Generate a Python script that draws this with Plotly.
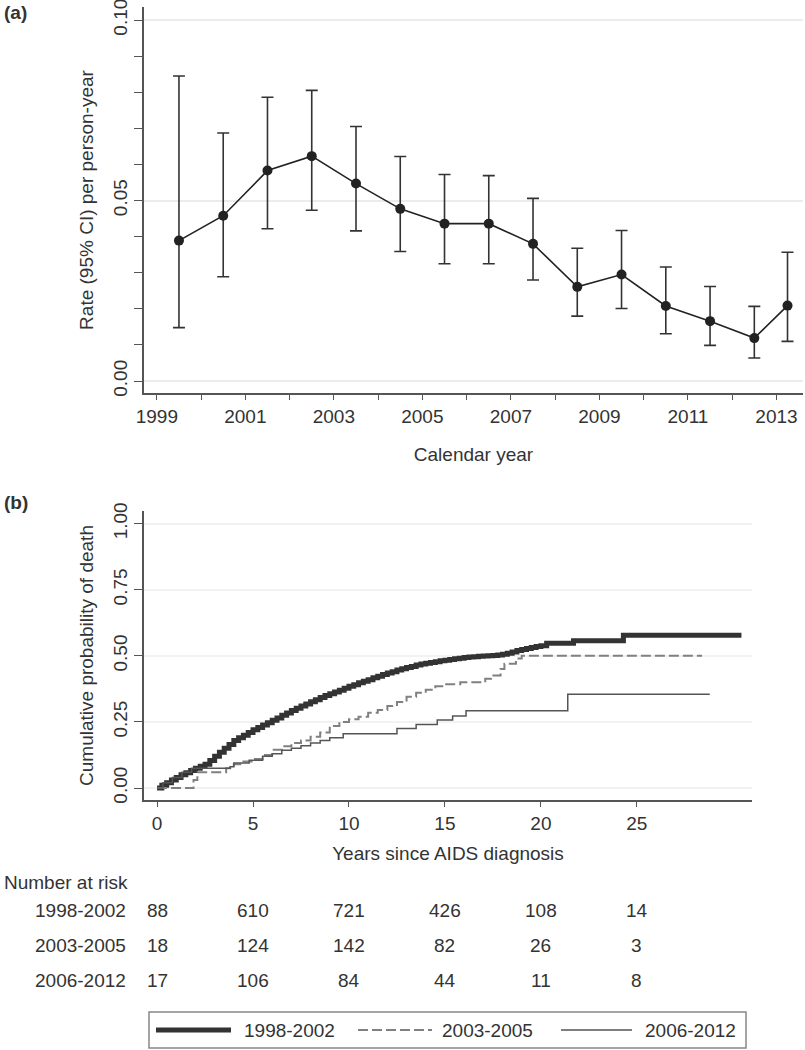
import plotly.graph_objects as go

# ---- panel (a): mortality rate by calendar year ----
years = [1999.5, 2000.5, 2001.5, 2002.5, 2003.5, 2004.5, 2005.5, 2006.5,
         2007.5, 2008.5, 2009.5, 2010.5, 2011.5, 2012.5, 2013.25]
rate = [0.0389, 0.0458, 0.0583, 0.0623, 0.0547, 0.0477, 0.0436, 0.0436,
        0.0380, 0.0261, 0.0295, 0.0208, 0.0166, 0.0119, 0.0209]
rate_hi = [0.0845, 0.0687, 0.0786, 0.0805, 0.0705, 0.0622, 0.0572, 0.0569,
           0.0506, 0.0368, 0.0417, 0.0316, 0.0262, 0.0207, 0.0357]
rate_lo = [0.0148, 0.0289, 0.0422, 0.0473, 0.0416, 0.0359, 0.0325, 0.0325,
           0.0280, 0.0180, 0.0201, 0.0131, 0.0099, 0.0064, 0.0110]
year_ticks = [1999, 2001, 2003, 2005, 2007, 2009, 2011, 2013]

# ---- panel (b): cumulative probability of death (Kaplan-Meier steps) ----
groups = ["1998-2002", "2003-2005", "2006-2012"]

t_9802 = [0, 0.25, 0.5, 0.75, 1.0, 1.25, 1.5, 1.75, 2.0, 2.25, 2.5, 2.75, 3.0, 3.25,
          3.5, 3.75, 4.0, 4.25, 4.5, 4.75, 5.0, 5.25, 5.5, 5.75, 6.0, 6.25, 6.5, 6.75,
          7.0, 7.25, 7.5, 7.75, 8.0, 8.25, 8.5, 8.75, 9.0, 9.25, 9.5, 9.75, 10.0,
          10.25, 10.5, 10.75, 11.0, 11.25, 11.5, 11.75, 12.0, 12.25, 12.5, 12.75,
          13.0, 13.25, 13.5, 13.75, 14.0, 14.25, 14.5, 14.75, 15.0, 15.25, 15.5,
          15.75, 16.0, 16.25, 16.5, 16.75, 17.0, 17.25, 17.5, 17.75, 18.0, 18.25,
          18.5, 18.75, 19.0, 19.25, 19.5, 19.75, 20.0, 20.3, 21.7, 24.3, 30.45]
p_9802 = [0, 0.01, 0.02, 0.03, 0.04, 0.05, 0.058, 0.066, 0.075, 0.082, 0.09, 0.104,
          0.12, 0.135, 0.15, 0.165, 0.18, 0.19, 0.20, 0.21, 0.22, 0.229, 0.238,
          0.247, 0.256, 0.265, 0.275, 0.284, 0.293, 0.302, 0.31, 0.318, 0.326,
          0.334, 0.342, 0.35, 0.357, 0.363, 0.370, 0.377, 0.385, 0.391, 0.398,
          0.404, 0.41, 0.417, 0.423, 0.429, 0.435, 0.44, 0.446, 0.451, 0.456, 0.46,
          0.465, 0.469, 0.472, 0.475, 0.478, 0.481, 0.483, 0.486, 0.489, 0.491,
          0.494, 0.496, 0.497, 0.498, 0.499, 0.500, 0.501, 0.503, 0.506, 0.51,
          0.515, 0.52, 0.524, 0.528, 0.532, 0.535, 0.538, 0.548, 0.557, 0.578, 0.578]

t_0305 = [0, 1.9, 2.1, 3.6, 4.0, 4.5, 5.0, 5.5, 6.0, 6.5, 7.0, 7.5, 8.0, 8.5, 9.0,
          9.5, 10.0, 10.5, 11.0, 11.5, 12.0, 12.5, 13.0, 13.5, 14.0, 14.5, 15.0,
          15.8, 17.1, 17.4, 17.9, 18.1, 18.7, 19.0, 28.4]
p_0305 = [0, 0.03, 0.06, 0.075, 0.09, 0.10, 0.11, 0.125, 0.145, 0.158, 0.17,
          0.18, 0.194, 0.21, 0.235, 0.25, 0.26, 0.27, 0.285, 0.295, 0.31, 0.325,
          0.345, 0.36, 0.372, 0.385, 0.393, 0.40, 0.413, 0.426, 0.45, 0.47, 0.49,
          0.50, 0.50]

t_0612 = [0, 0.3, 0.8, 1.3, 1.8, 3.8, 4.0, 4.8, 5.5, 6.0, 6.5, 7.0, 7.5, 8.0, 8.5,
          9.0, 9.7, 12.5, 13.5, 14.6, 15.4, 16.1, 21.4, 28.8]
p_0612 = [0, 0.02, 0.04, 0.06, 0.075, 0.08, 0.095, 0.105, 0.12, 0.13, 0.143, 0.15,
          0.16, 0.17, 0.18, 0.19, 0.205, 0.225, 0.24, 0.257, 0.272, 0.292, 0.355,
          0.355]

risk_times = [0, 5, 10, 15, 20, 25]
risk_9802 = [88, 610, 721, 426, 108, 14]
risk_0305 = [18, 124, 142, 82, 26, 3]
risk_0612 = [17, 106, 84, 44, 11, 8]

FONT = "Liberation Sans, Arial, sans-serif"
TXT = "#333333"
AX = "#555555"
GRID = "#ececec"
W, H = 805, 1050

fig = go.Figure()

err_plus = [h - r for h, r in zip(rate_hi, rate)]
err_minus = [r - l for r, l in zip(rate, rate_lo)]
fig.add_trace(go.Scatter(
    x=years, y=rate, mode="lines+markers",
    line=dict(color="#222222", width=1.6),
    marker=dict(color="#222222", size=10),
    error_y=dict(type="data", symmetric=False, array=err_plus, arrayminus=err_minus,
                 color="#333333", thickness=1.6, width=6),
    xaxis="x", yaxis="y", showlegend=False))

styles = [dict(color="#333333", width=5),
          dict(color="#808080", width=2, dash="10px,4px"),
          dict(color="#555555", width=1.5)]
for name, t, p, st in zip(groups, [t_9802, t_0305, t_0612], [p_9802, p_0305, p_0612], styles):
    fig.add_trace(go.Scatter(x=t, y=p, mode="lines", line_shape="hv", line=st,
                             name=name, xaxis="x2", yaxis="y2", showlegend=False))

axis_common = dict(showline=True, linecolor=AX, linewidth=1.5, ticks="outside",
                   tickcolor=AX, tickwidth=1.2, automargin=False, zeroline=False,
                   ticklabeloverflow="allow",
                   tickfont=dict(size=19, color=TXT, family=FONT),
                   title_font=dict(size=19, color=TXT, family=FONT))

fig.update_layout(
    width=W, height=H, margin=dict(l=0, r=0, t=0, b=0),
    paper_bgcolor="white", plot_bgcolor="white",
    font=dict(family=FONT, color=TXT, size=19),
    xaxis=dict(domain=[144 / W, 803 / W], anchor="y", range=[1998.71, 2013.6],
               tickvals=year_ticks, ticklen=5, showgrid=False,
               minor=dict(dtick=1, tick0=1999, ticks="outside", ticklen=5,
                          tickcolor=AX, tickwidth=1.2),
               title=dict(text="Calendar year", standoff=22), **axis_common),
    yaxis=dict(domain=[(H - 393) / H, (H - 7) / H], anchor="x", range=[-0.0033, 0.1036],
               tickvals=[0, 0.05, 0.1], ticktext=["0.00", "0.05", "0.10"],
               tickangle=-90, ticklen=8, showgrid=True, gridcolor=GRID, gridwidth=1.5,
               minor=dict(dtick=0.01, tick0=0, ticks="outside", ticklen=8,
                          tickcolor=AX, tickwidth=1.2),
               title=dict(text="Rate (95% CI) per person-year", standoff=11), **axis_common),
    xaxis2=dict(domain=[144 / W, 752 / W], anchor="y2", range=[-0.68, 31.0],
                tickvals=[0, 5, 10, 15, 20, 25], ticklen=5, showgrid=False,
                title=dict(text="Years since AIDS diagnosis", standoff=14), **axis_common),
    yaxis2=dict(domain=[(H - 800) / H, (H - 511) / H], anchor="x2", range=[-0.0454, 1.048],
                tickvals=[0, 0.25, 0.5, 0.75, 1.0],
                ticktext=["0.00", "0.25", "0.50", "0.75", "1.00"],
                tickangle=-90, ticklen=8, showgrid=True, gridcolor="#f2f2f2", gridwidth=1.5,
                title=dict(text="Cumulative probability of death", standoff=11), **axis_common),
)

ann = [
    dict(text="<b>(a)</b>", x=2 / W, y=(H - 12) / H),
    dict(text="<b>(b)</b>", x=2 / W, y=(H - 502) / H),
    dict(text="Number at risk", x=2 / W, y=(H - 883) / H),
]
for a in ann:
    fig.add_annotation(xref="paper", yref="paper", xanchor="left", yanchor="middle",
                       showarrow=False, font=dict(size=19, color=TXT, family=FONT), **a)

row_y = [910, 945, 980]
for name, counts, ry in zip(groups, [risk_9802, risk_0305, risk_0612], row_y):
    fig.add_annotation(text=name, xref="paper", yref="paper", x=128 / W, y=(H - ry) / H,
                       xanchor="right", yanchor="middle", showarrow=False,
                       font=dict(size=19, color=TXT, family=FONT))
    for t, n in zip(risk_times, counts):
        fig.add_annotation(text=str(n), xref="x2", yref="paper", x=t, y=(H - ry) / H,
                           xanchor="center", yanchor="middle", showarrow=False,
                           font=dict(size=19, color=TXT, family=FONT))

# legend box drawn by hand so the line samples are long like the original
fig.add_shape(type="rect", xref="paper", yref="paper", x0=149 / W, x1=746 / W,
              y0=(H - 1048) / H, y1=(H - 1012) / H, line=dict(color="#888888", width=1.5))
leg_y = (H - 1030) / H
sample_x = [(156, 231), (358, 432), (561, 632)]
label_x = [242, 440, 643]
for name, st, (sx0, sx1), lx in zip(groups, styles, sample_x, label_x):
    fig.add_shape(type="line", xref="paper", yref="paper", x0=sx0 / W, x1=sx1 / W,
                  y0=leg_y, y1=leg_y, line=st)
    fig.add_annotation(text=name, xref="paper", yref="paper", x=lx / W, y=leg_y,
                       xanchor="left", yanchor="middle", showarrow=False,
                       font=dict(size=19, color=TXT, family=FONT))

# the page body has a default 8px margin; drop it so the figure fills the window
fig.write_html("out.html", config={"displayModeBar": False},
               post_script="document.body.style.margin='0px';")
